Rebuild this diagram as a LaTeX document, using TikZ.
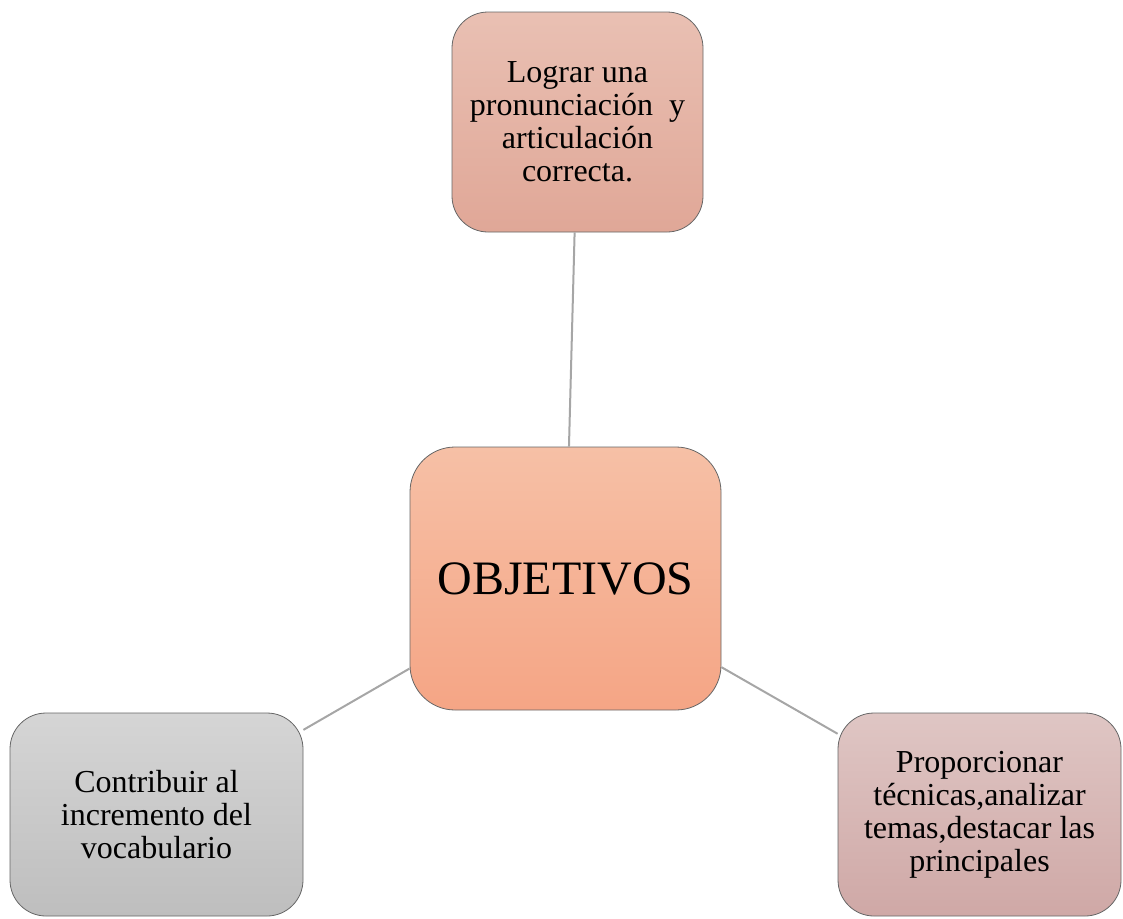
\documentclass[tikz,border=0pt]{standalone}
\usepackage{fontspec}
\setmainfont{Liberation Serif}
\definecolor{rosaA}{HTML}{E9C0B3}
\definecolor{rosaB}{HTML}{E0A797}
\definecolor{salmonA}{HTML}{F6C0A6}
\definecolor{salmonB}{HTML}{F5A585}
\definecolor{grisA}{HTML}{D5D5D5}
\definecolor{grisB}{HTML}{BEBEBE}
\definecolor{malvaA}{HTML}{DFC6C4}
\definecolor{malvaB}{HTML}{CFA8A6}
\begin{document}
\begin{tikzpicture}[x=1pt,y=-1pt] % mapa de objetivos
\tikzstyle{caja} = [draw=black!60, line width=0.8pt, rounded corners=36pt, align=center, inner sep=0pt, font=\fontsize{32}{33}\selectfont] % estilo de las cajas
\tikzstyle{enlace} = [draw=black!35, line width=2pt] % conector gris
\useasboundingbox (0,0) rectangle (1123,918);
%
\node[caja, minimum width=311pt, minimum height=263pt, rounded corners=45pt, top color=salmonA, bottom color=salmonB, font=\fontsize{48}{50}\selectfont] (obj) at (565.5,578.5) {OBJETIVOS};
\node[caja, minimum width=251pt, minimum height=220pt, top color=rosaA, bottom color=rosaB] (pron) at (577.5,122) {Lograr una\\ pronunciación\ \ y\\ articulación\\ correcta.};
\node[caja, minimum width=293pt, minimum height=203pt, top color=grisA, bottom color=grisB] (voc) at (156.5,814.5) {Contribuir al\\ incremento del\\ vocabulario};
\node[caja, minimum width=283pt, minimum height=203pt, top color=malvaA, bottom color=malvaB] (tec) at (979.5,814.5) {Proporcionar\\ técnicas,analizar\\ temas,destacar las\\ principales};
%
\draw[enlace] (obj) -- (pron);
\draw[enlace] (obj) -- (voc);
\draw[enlace] (obj) -- (tec);
\end{tikzpicture}
\end{document}
